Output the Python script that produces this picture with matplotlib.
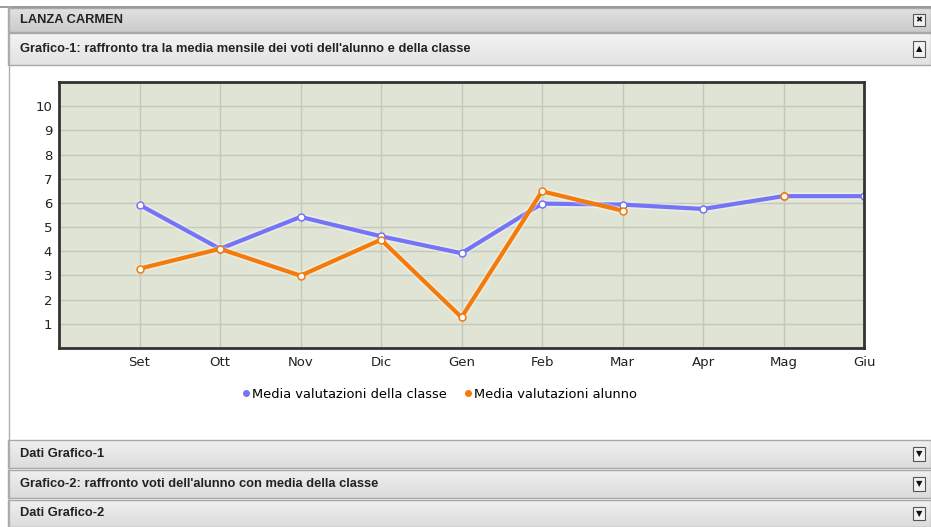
import numpy as np
import matplotlib
matplotlib.use("Agg")
import matplotlib.pyplot as plt
from matplotlib.patches import Rectangle
from matplotlib.lines import Line2D
import matplotlib.patheffects as pe

# monthly averages: class vs student
months = ['Set', 'Ott', 'Nov', 'Dic', 'Gen', 'Feb', 'Mar', 'Apr', 'Mag', 'Giu']
media_classe = [5.92, 4.10, 5.42, 4.62, 3.92, 5.97, 5.93, 5.75, 6.28, 6.28]
media_alunno = [3.28, 4.10, 2.99, 4.48, 1.27, 6.48, 5.68, np.nan, 6.28, np.nan]
yticks = list(range(1, 11))

label_classe = 'Media valutazioni della classe'
label_alunno = 'Media valutazioni alunno'
col_classe = '#7474f6'
col_alunno = '#f57a0a'

W, H = 931, 527
fig = plt.figure(figsize=(W / 100, H / 100), dpi=100)
fig.patch.set_facecolor('white')

head_font = ['Liberation Sans', 'DejaVu Sans']


def bar(y0, y1, text, top, bottom, icon):
    # panel header strip, pixel coords from the top
    ax = fig.add_axes([8 / W, 1 - y1 / H, (W - 8) / W, (y1 - y0) / H])
    grad = np.linspace(0, 1, 50).reshape(-1, 1)
    c0 = np.array(matplotlib.colors.to_rgb(top))
    c1 = np.array(matplotlib.colors.to_rgb(bottom))
    img = c0 + (c1 - c0) * grad[..., None]
    ax.imshow(img, aspect='auto', extent=[0, 1, 0, 1])
    ax.set_xlim(0, 1)
    ax.set_ylim(0, 1)
    ax.set_axis_off()
    ax.add_patch(Rectangle((0, 0), 1, 1, fill=False, ec='#a8a8a8', lw=1.0,
                           transform=ax.transAxes, clip_on=False))
    ax.text(12 / (W - 8), 0.5, text, fontsize=9.3, fontweight='bold',
            family=head_font, color='#222222', va='center', ha='left')
    bx = (913 - 8) / (W - 8)
    ax.add_patch(Rectangle((bx, 0.25), 12 / (W - 8), 0.5, fc='#f2f2f2',
                           ec='#555555', lw=0.8, transform=ax.transAxes))
    ax.text(bx + 6 / (W - 8), 0.5, icon, fontsize=6, color='#111111',
            ha='center', va='center', family=['DejaVu Sans'])


# page frame
fig.add_artist(Line2D([0, 1], [1 - 7 / H, 1 - 7 / H], color='#8a8a8a', lw=1.2))
fig.add_artist(Line2D([8.5 / W, 8.5 / W], [1 - 7 / H, 0], color='#b0b0b0', lw=1.0))

bar(8, 32, 'LANZA CARMEN', '#e2e2e2', '#cbcbcb', '✖')
bar(33, 65, "Grafico-1: raffronto tra la media mensile dei voti dell'alunno e della classe",
    '#f4f4f4', '#e2e2e2', '▲')
bar(440, 468, 'Dati Grafico-1', '#f0f0f0', '#dcdcdc', '▼')
bar(470, 498, "Grafico-2: raffronto voti dell'alunno con media della classe",
    '#f0f0f0', '#dcdcdc', '▼')
bar(500, 527, 'Dati Grafico-2', '#f0f0f0', '#dcdcdc', '▼')

# chart area
x0, x1, y0, y1 = 59, 864, 82, 348
ax = fig.add_axes([x0 / W, 1 - y1 / H, (x1 - x0) / W, (y1 - y0) / H])
ax.set_facecolor('#e0e4d4')
x = np.arange(len(months))

glow = [pe.Stroke(linewidth=5.5, foreground='white', alpha=0.3), pe.Normal()]
ax.plot(x, media_classe, color=col_classe, lw=3, zorder=3, path_effects=glow)
ax.plot(x, media_classe, 'o', ms=5, mfc='white', mec=col_classe, mew=1.1, zorder=5)
ax.plot(x, media_alunno, color=col_alunno, lw=3, zorder=4, path_effects=glow)
ax.plot(x, media_alunno, 'o', ms=5, mfc='white', mec=col_alunno, mew=1.1, zorder=6)

ax.set_xlim(-1, 9)
ax.set_ylim(0, 11)
ax.set_xticks(x)
ax.set_xticklabels(months)
ax.set_yticks(yticks)
ax.tick_params(length=0, labelsize=9.5, colors='#222222', pad=5)
ax.tick_params(axis='x', pad=6)
ax.grid(True, color='#c4c8ba', lw=1.0)
ax.set_axisbelow(True)
for s in ax.spines.values():
    s.set_color('#333333')
    s.set_linewidth(2)
    s.set_zorder(8)
for lbl in ax.get_xticklabels():
    lbl.set_clip_on(False)

handles = [Line2D([], [], ls='none', marker='o', ms=4, color=col_classe, label=label_classe),
           Line2D([], [], ls='none', marker='o', ms=4, color=col_alunno, label=label_alunno)]
fig.legend(handles=handles, loc='center', bbox_to_anchor=(440 / W, 1 - 394 / H),
           ncol=2, frameon=False, fontsize=9.4, handlelength=0.5, handletextpad=0.2,
           columnspacing=1.4)

fig.savefig('out.png', dpi=100)
